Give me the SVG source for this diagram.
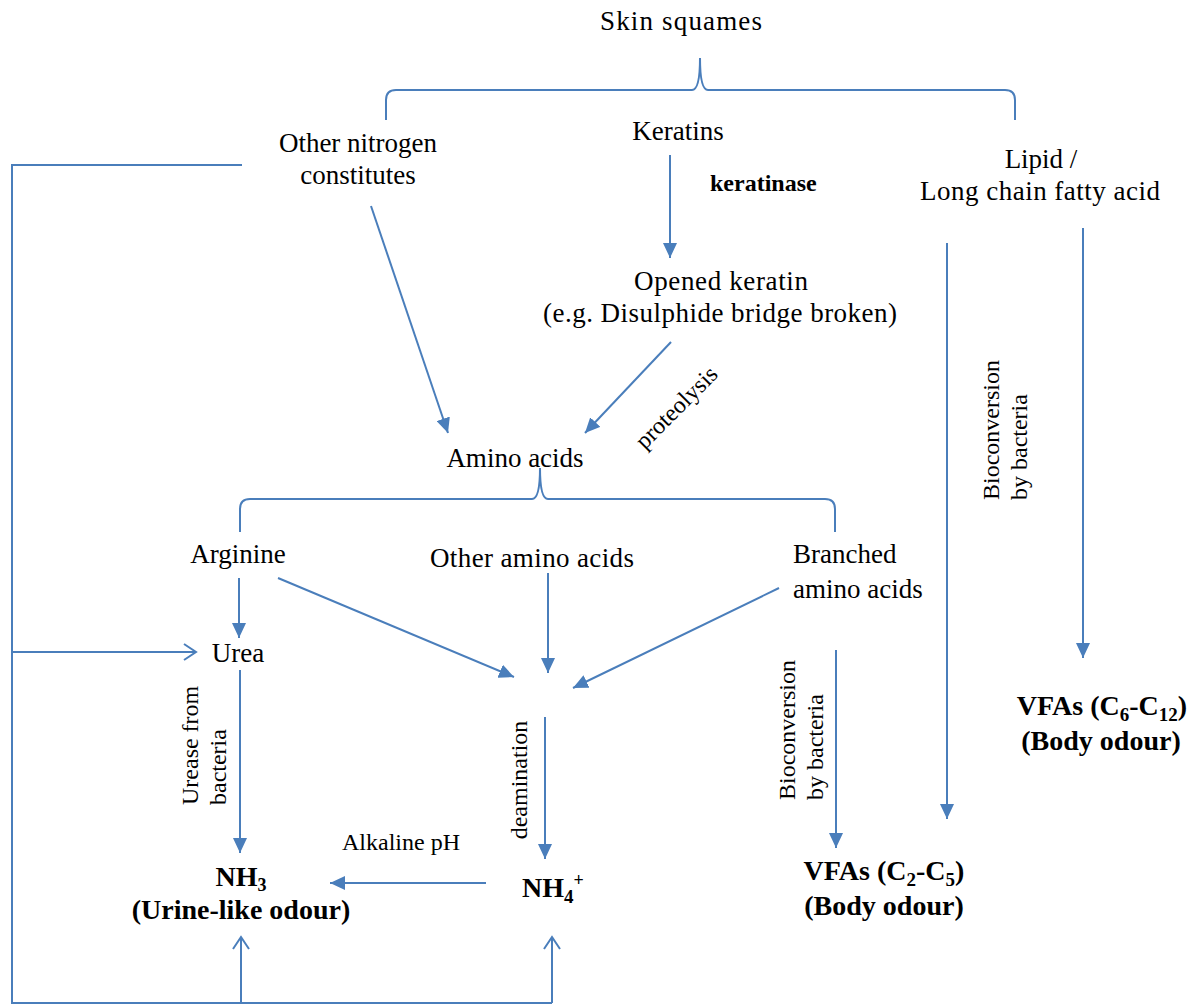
<svg xmlns="http://www.w3.org/2000/svg" width="1200" height="1008" viewBox="0 0 1200 1008">
<style>
.t{font-family:"Liberation Serif","Times New Roman",serif;font-size:27px;fill:#000}
.s{font-family:"Liberation Serif","Times New Roman",serif;font-size:24px;fill:#000}
.b{font-family:"Liberation Serif","Times New Roman",serif;font-size:28px;font-weight:bold;fill:#000}
.m{text-anchor:middle}
.ln{fill:none;stroke:#4A7EBB;stroke-width:2}
.ar{fill:none;stroke:#4A7EBB;stroke-width:2;marker-end:url(#fa)}
.oa{fill:none;stroke:#4A7EBB;stroke-width:2;marker-end:url(#oa)}
</style>
<defs>
<marker id="fa" markerUnits="userSpaceOnUse" markerWidth="16" markerHeight="14" refX="15" refY="7" orient="auto" viewBox="0 0 16 14">
<path d="M0,0 L15,7 L0,14 z" fill="#4A7EBB"/>
</marker>
<marker id="oa" markerUnits="userSpaceOnUse" markerWidth="16" markerHeight="18" refX="14" refY="9" orient="auto" viewBox="0 0 16 18">
<path d="M2,1 L14,9 L2,17" fill="none" stroke="#4A7EBB" stroke-width="2"/>
</marker>
</defs>

<g id="connectors">
<path class="ln" d="M386,120 L386,100 Q386,90 396,90 L692,90 Q700,90 700,58 Q700,90 708,90 L1005,90 Q1015,90 1015,100 L1015,120"/>
<path class="ln" d="M240,532 L240,509 Q240,499 250,499 L532,499 Q540,499 540,468 Q540,499 548,499 L825,499 Q835,499 835,509 L835,532"/>
<line class="ar" x1="670" y1="155" x2="670" y2="258"/>
<line class="ar" x1="371" y1="206" x2="448" y2="433"/>
<line class="ar" x1="671" y1="342" x2="585" y2="433"/>
<line class="ar" x1="947" y1="243" x2="947" y2="819"/>
<line class="ar" x1="1083" y1="228" x2="1083" y2="658"/>
<line class="ar" x1="239" y1="578" x2="239" y2="638"/>
<line class="ar" x1="278" y1="578" x2="514" y2="677"/>
<line class="ar" x1="548" y1="573" x2="548" y2="673"/>
<line class="ar" x1="779" y1="588" x2="573" y2="688"/>
<line class="ar" x1="545" y1="717" x2="545" y2="859"/>
<line class="ar" x1="240" y1="670" x2="240" y2="853"/>
<line class="ar" x1="486" y1="883" x2="330" y2="883"/>
<line class="ar" x1="836" y1="650" x2="836" y2="848"/>
<polyline class="ln" points="242,165 12,165 12,1003 552,1003"/>
<line class="oa" x1="12" y1="652" x2="196" y2="652"/>
<line class="oa" x1="241" y1="1003" x2="241" y2="937"/>
<line class="oa" x1="552" y1="1003" x2="552" y2="937"/>
</g>

<g id="skin-squames"><text class="t m" x="681" y="30" textLength="162">Skin squames</text></g>
<g id="other-nitrogen"><text class="t m" x="358" y="152">Other nitrogen</text><text class="t m" x="358" y="184">constitutes</text></g>
<g id="keratins"><text class="t m" x="678" y="140">Keratins</text></g>
<g id="keratinase"><text x="710" y="191" font-family="Liberation Serif, Times New Roman, serif" font-size="24" font-weight="bold">keratinase</text></g>
<g id="opened-keratin"><text class="t m" x="721" y="290" textLength="174">Opened keratin</text><text class="t m" x="720" y="322" textLength="354">(e.g. Disulphide bridge broken)</text></g>
<g id="lipid"><text class="t m" x="1041" y="168">Lipid /</text><text class="t m" x="1040" y="200" textLength="240">Long chain fatty acid</text></g>
<g id="proteolysis"><text class="s m" transform="translate(677,408) rotate(-45)" y="7">proteolysis</text></g>
<g id="amino-acids"><text class="t m" x="515" y="467">Amino acids</text></g>
<g id="arginine"><text class="t m" x="238" y="563">Arginine</text></g>
<g id="other-amino"><text class="t m" x="532" y="567" textLength="204">Other amino acids</text></g>
<g id="branched"><text class="t" x="793" y="563">Branched</text><text class="t" x="793" y="598">amino acids</text></g>
<g id="urea"><text class="t m" x="238" y="662">Urea</text></g>
<g id="urease-label"><text class="s" transform="translate(198,805) rotate(-90)">Urease from</text><text class="s" transform="translate(226,805) rotate(-90)">bacteria</text></g>
<g id="deamination-label"><text class="s m" transform="translate(527,780) rotate(-90)">deamination</text></g>
<g id="alkaline-label"><text class="s m" x="401" y="850">Alkaline pH</text></g>
<g id="nh3"><text class="b m" x="241" y="886">NH<tspan font-size="18" dy="5">3</tspan></text><text class="b m" x="241" y="919">(Urine-like odour)</text></g>
<g id="nh4"><text class="b" x="522" y="897">NH<tspan font-size="19" dy="6">4</tspan><tspan font-size="18" dy="-17">+</tspan></text></g>
<g id="bio-label-1"><text class="s" transform="translate(795,800) rotate(-90)">Bioconversion</text><text class="s" transform="translate(823,800) rotate(-90)">by bacteria</text></g>
<g id="bio-label-2"><text class="s" transform="translate(999,500) rotate(-90)">Bioconversion</text><text class="s" transform="translate(1027,500) rotate(-90)">by bacteria</text></g>
<g id="vfa-c2c5"><text class="b m" x="884" y="880">VFAs (C<tspan font-size="19" dy="6">2</tspan><tspan dy="-6">-C</tspan><tspan font-size="19" dy="6">5</tspan><tspan dy="-6">)</tspan></text><text class="b m" x="884" y="915">(Body odour)</text></g>
<g id="vfa-c6c12"><text class="b m" x="1102" y="715">VFAs (C<tspan font-size="19" dy="6">6</tspan><tspan dy="-6">-C</tspan><tspan font-size="19" dy="6">12</tspan><tspan dy="-6">)</tspan></text><text class="b m" x="1101" y="750">(Body odour)</text></g>
</svg>
